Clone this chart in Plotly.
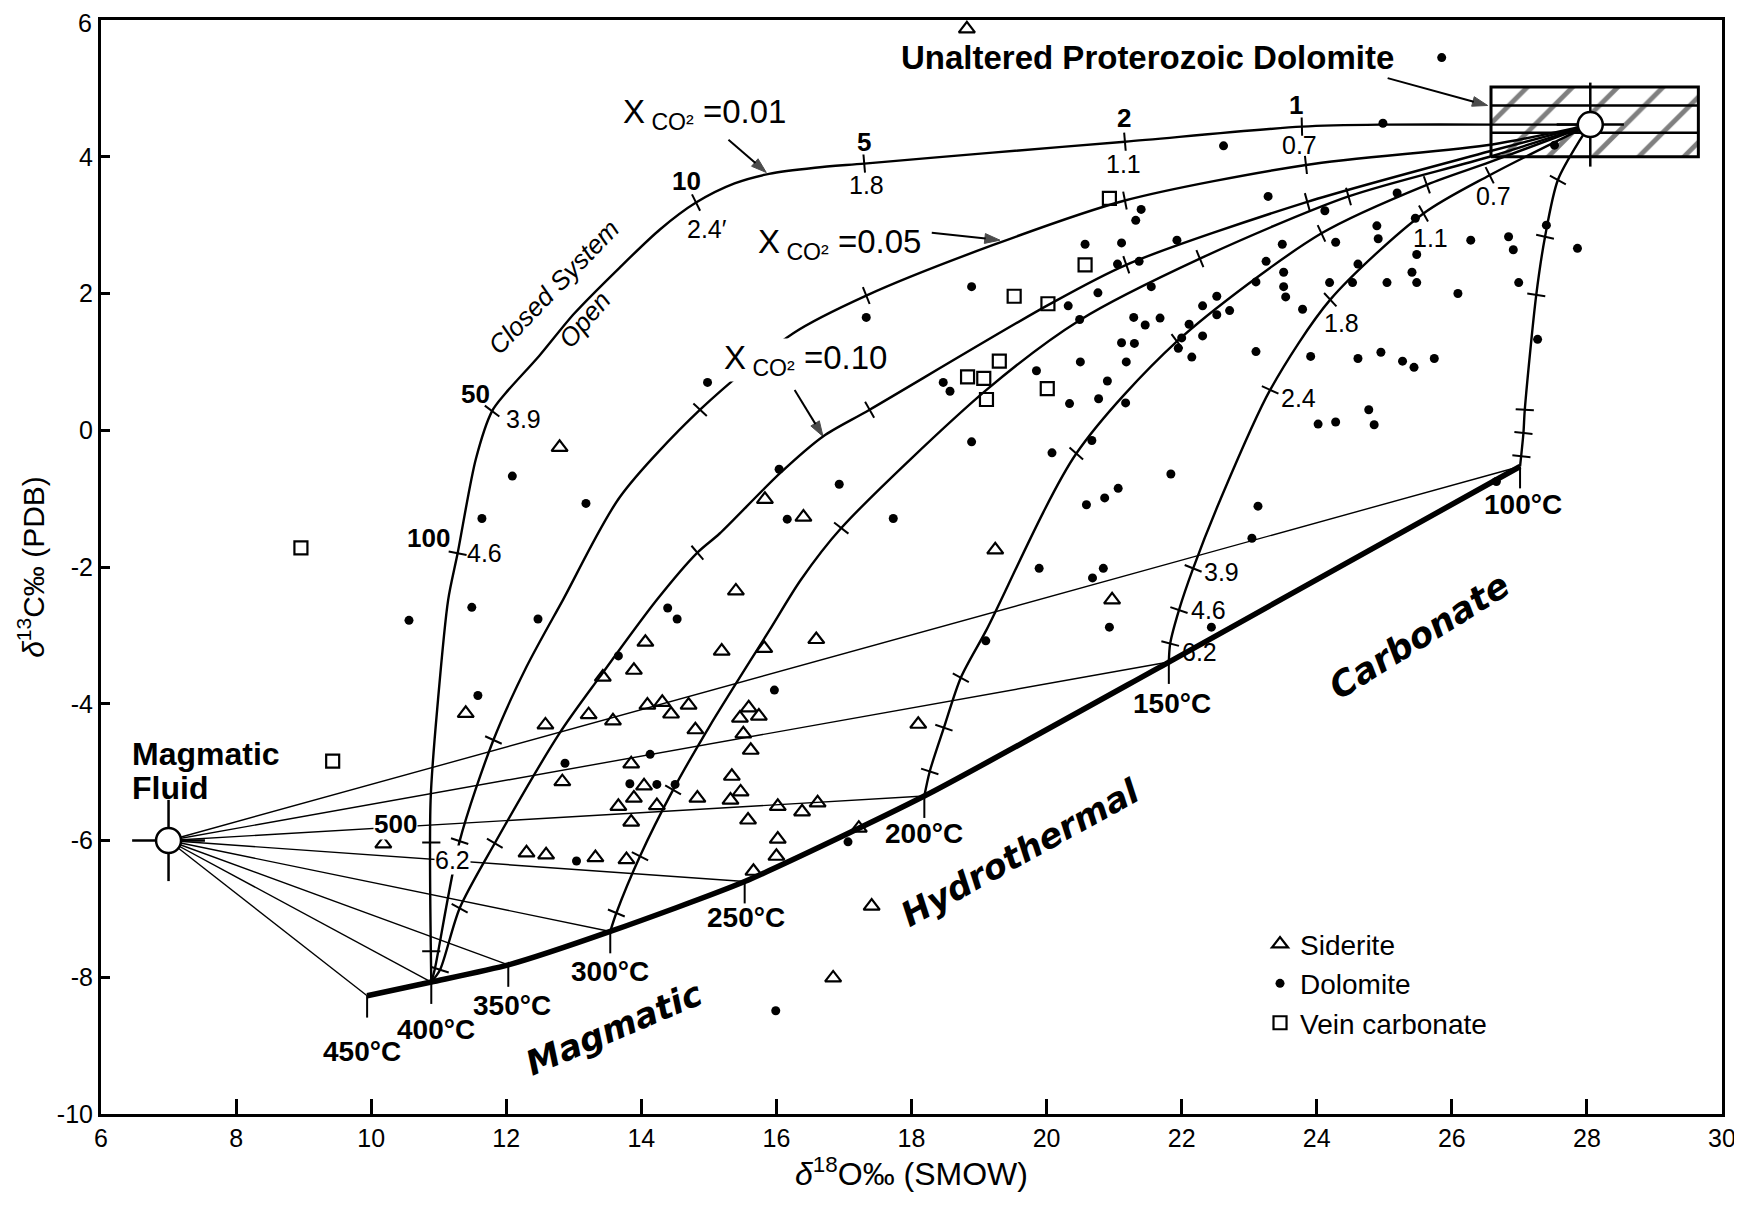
import numpy as np
import plotly.graph_objects as go

FONT = "Liberation Sans, Arial, Helvetica, sans-serif"
WIDE = "DejaVu Sans, Verdana, sans-serif"

# ---------------- sample data (delta18O SMOW, delta13C PDB) ----------------
sid_x = [18.82, 12.79, 15.83, 16.40, 15.40, 19.24, 20.97, 14.06, 15.19, 15.82, 16.59,
         13.89, 13.43, 11.40, 12.58, 13.22, 13.58, 14.09, 14.31, 14.44, 14.70, 14.80,
         15.46, 15.59, 15.74, 15.51, 15.62, 18.10, 12.83, 13.85, 14.04, 13.89, 13.66,
         14.23, 14.83, 15.34, 15.47, 15.32, 16.02, 16.38, 16.61, 15.58, 13.85, 16.02,
         10.18, 12.30, 12.59, 13.32, 13.78, 16.00, 15.66, 17.22, 17.41, 16.84]
sid_y = [5.87, -0.25, -1.01, -1.27, -2.35, -1.75, -2.48, -3.10, -3.23, -3.19, -3.06,
         -3.51, -3.61, -4.14, -4.31, -4.16, -4.25, -4.02, -3.98, -4.15, -4.02, -4.38,
         -4.21, -4.06, -4.18, -4.44, -4.68, -4.30, -5.14, -4.88, -5.20, -5.38, -5.50,
         -5.49, -5.38, -5.06, -5.29, -5.41, -5.50, -5.58, -5.45, -5.70, -5.73, -5.98,
         -6.05, -6.18, -6.21, -6.25, -6.28, -6.23, -6.45, -5.82, -6.96, -8.01]

dol_x = [22.62, 24.98, 23.28, 24.12, 25.19, 21.93, 23.49, 24.28, 24.89, 24.91, 25.46,
         25.48, 26.28, 26.84, 26.91, 27.86, 27.40, 27.52, 23.25, 23.51, 23.51, 23.54,
         23.10, 24.19, 24.53, 24.61, 25.04, 25.41, 25.48, 26.99, 26.09, 22.52, 22.31,
         22.71, 22.52, 21.68, 22.11, 22.00, 22.31, 21.95, 22.15, 23.79, 23.10, 23.91,
         24.61, 24.95, 25.27, 25.44, 25.74, 27.27, 24.02, 24.28, 24.77, 24.85, 21.84,
         23.13, 23.04, 26.66, 25.85, 22.44,
         21.40, 21.32, 20.57, 21.11, 21.05, 21.37, 18.89, 20.32, 20.76, 20.49, 21.55,
         21.29, 21.46, 21.11, 21.30, 20.50, 21.18, 17.33, 18.47, 18.57, 19.85, 20.34,
         20.77, 21.17, 20.90, 18.89, 20.08, 20.67, 20.59, 20.86, 21.06, 19.89, 20.84,
         20.68, 20.93, 19.10, 17.06, 15.99, 14.98, 16.04, 16.16, 16.93, 17.73, 12.09,
         13.18, 11.64, 10.56, 11.49, 12.47, 14.39, 14.53, 13.66, 15.97, 11.58, 12.87,
         14.13, 13.83, 14.23, 14.50, 13.04]
dol_y = [4.16, 4.49, 3.42, 3.21, 3.47, 2.78, 2.72, 2.75, 2.99, 2.80, 3.10,
         2.57, 2.78, 2.83, 2.64, 2.66, 3.00, 4.17, 2.47, 2.31, 2.10, 1.95,
         2.17, 2.16, 2.16, 2.43, 2.16, 2.31, 2.16, 2.16, 2.00, 1.96, 1.82,
         1.75, 1.69, 1.64, 1.55, 1.35, 1.38, 1.20, 1.07, 1.77, 1.15, 1.08,
         1.05, 1.14, 1.01, 0.92, 1.05, 1.33, 0.09, 0.12, 0.30, 0.08, -0.64,
         -1.11, -1.58, -0.75, 5.45, -2.88,
         3.23, 3.07, 2.72, 2.74, 2.43, 2.47, 2.10, 1.82, 2.01, 1.62, 2.10,
         1.65, 1.54, 1.28, 1.27, 1.00, 1.00, 1.65, 0.70, 0.57, 0.87, 0.39,
         0.46, 0.40, 0.72, -0.17, -0.33, -0.15, -1.09, -0.99, -0.85, -2.02, -2.02,
         -2.16, -2.88, -3.08, -6.02, -8.49, 0.70, -0.57, -1.30, -0.79, -1.29, -0.67,
         -1.07, -1.29, -2.78, -2.59, -2.76, -2.60, -2.76, -3.30, -3.80, -3.88, -4.87,
         -4.74, -5.17, -5.18, -5.18, -6.30]

vein_x = [8.96, 9.43, 20.93, 20.57, 19.52, 20.02, 19.30, 18.83, 19.07, 19.11, 20.01]
vein_y = [-1.72, -4.84, 3.39, 2.42, 1.96, 1.85, 1.01, 0.78, 0.76, 0.45, 0.61]

# axis ticks (the top "6" is written separately so it is not clipped by the page edge)
x_ticks = [6, 8, 10, 12, 14, 16, 18, 20, 22, 24, 26, 28, 30]
x_tick_text = ["6", "8", "10", "12", "14", "16", "18", "20", "22", "24", "26", "28", "30"]
y_ticks = [-10, -8, -6, -4, -2, 0, 2, 4, 6]
y_tick_text = ["-10", "-8", "-6", "-4", "-2", "0", "2", "4", ""]
y_top_text = "6"

# ---------------- model end members ----------------
magma_x, magma_y = 7.0, -6.0
dolo_x, dolo_y = 28.05, 4.47
box_x = [26.58, 29.65]
box_y = [4.0, 5.02]
box_layers = [4.35, 4.75]

# hydrothermal carbonate (temperature) curve
temp_labels = ["450°C", "400°C", "350°C", "300°C", "250°C", "200°C", "150°C", "100°C"]
temp_x = [9.94, 10.89, 12.03, 13.54, 15.53, 18.19, 21.81, 27.01]
temp_y = [-8.27, -8.07, -7.82, -7.33, -6.60, -5.35, -3.39, -0.53]

# water/rock interaction curves from unaltered dolomite
c1_x = [28.05, 26.6, 25.0, 23.78, 21.16, 19.2, 17.3, 16.57, 15.89, 15.38, 14.81, 14.28,
        13.68, 13.0, 12.49, 11.98, 11.79, 11.55, 11.28, 11.14, 10.99, 10.88, 10.89]
c1_y = [4.47, 4.47, 4.47, 4.44, 4.22, 4.06, 3.90, 3.84, 3.75, 3.61, 3.33, 2.94,
        2.38, 1.70, 1.09, 0.53, 0.28, -0.42, -1.80, -2.48, -3.94, -5.41, -8.07]
c2_x = [28.05, 26.6, 23.84, 21.16, 19.21, 17.33, 16.25, 14.87, 13.68, 12.84, 12.30,
        11.81, 11.31, 10.94, 10.89]
c2_y = [4.47, 4.18, 3.88, 3.36, 2.71, 1.97, 1.42, 0.30, -0.98, -2.48, -3.46,
        -4.53, -6.01, -7.89, -8.07]
c3_x = [28.05, 26.56, 23.86, 21.18, 20.02, 17.38, 16.69, 16.05, 15.16, 14.83, 14.23,
        13.39, 12.79, 11.83, 11.31, 11.02, 10.89]
c3_y = [4.47, 4.08, 3.34, 2.42, 1.83, 0.30, -0.09, -0.63, -1.51, -1.79, -2.48,
        -3.60, -4.43, -6.04, -6.99, -7.89, -8.07]
c4_x = [28.05, 26.56, 24.47, 22.27, 20.49, 19.11, 16.96, 16.36, 15.90, 15.01, 14.47,
        13.98, 13.63, 13.54]
c4_y = [4.47, 4.00, 3.42, 2.51, 1.61, 0.59, -1.43, -2.19, -2.92, -4.33, -5.26,
        -6.23, -7.06, -7.33]
c5_x = [28.05, 26.56, 25.63, 24.07, 21.93, 20.44, 19.11, 18.73, 18.48, 18.27, 18.19]
c5_y = [4.47, 3.92, 3.59, 2.88, 1.30, -0.34, -2.92, -3.62, -4.35, -4.99, -5.35]
c6_x = [28.05, 26.56, 25.58, 24.20, 23.31, 22.57, 22.17, 21.96, 21.83, 21.81]
c6_y = [4.47, 3.73, 3.17, 1.91, 0.59, -1.02, -2.02, -2.63, -3.12, -3.39]
c7_x = [28.05, 27.9, 27.57, 27.38, 27.25, 27.08, 27.06, 27.01]
c7_y = [4.47, 4.25, 3.66, 2.83, 1.98, 0.30, -0.04, -0.53]

# tick marks along curves
t1_x = [23.78, 21.16, 17.3, 14.81, 11.79, 11.28, 10.89, 10.89]
t1_y = [4.44, 4.22, 3.90, 3.33, 0.28, -1.80, -6.03, -7.62]
t2_x = [23.84, 21.16, 17.33, 14.87, 11.81, 11.31]
t2_y = [3.88, 3.36, 1.97, 0.30, -4.53, -6.01]
t3_x = [23.86, 21.18, 17.38, 14.83, 11.83, 11.31, 11.02]
t3_y = [3.34, 2.42, 0.30, -1.79, -6.04, -6.99, -7.89]
t4_x = [24.47, 22.27, 16.96, 14.47, 13.98, 13.63]
t4_y = [3.42, 2.51, -1.43, -5.26, -6.23, -7.06]
t5_x = [25.63, 24.07, 21.93, 20.44, 18.73, 18.48, 18.27]
t5_y = [3.59, 2.88, 1.30, -0.34, -3.62, -4.35, -4.99]
t6_x = [26.56, 25.58, 24.20, 23.31, 22.17, 21.96, 21.83]
t6_y = [3.73, 3.17, 1.91, 0.59, -2.02, -2.63, -3.12]
t7_x = [27.57, 27.38, 27.25, 27.08, 27.06, 27.03]
t7_y = [3.66, 2.83, 1.98, 0.30, -0.04, -0.38]

curves = [(c1_x, c1_y, t1_x, t1_y), (c2_x, c2_y, t2_x, t2_y), (c3_x, c3_y, t3_x, t3_y),
          (c4_x, c4_y, t4_x, t4_y), (c5_x, c5_y, t5_x, t5_y), (c6_x, c6_y, t6_x, t6_y),
          (c7_x, c7_y, t7_x, t7_y)]

# ---------------- layout geometry (page body has an 8px margin) ----------------
W, H = 1734, 1191
ML, MR, MT, MB = 93, 20, 12, 85
PX_X = (W - ML - MR) / 24.0
PX_Y = (H - MT - MB) / 16.0


def tick_angles(cx, cy, tx, ty):
    cx = np.asarray(cx, float); cy = np.asarray(cy, float)
    out = []
    for x, y in zip(tx, ty):
        best, bd = 0, 1e18
        for i in range(len(cx) - 1):
            x0, y0 = cx[i] * PX_X, cy[i] * PX_Y
            x1, y1 = cx[i + 1] * PX_X, cy[i + 1] * PX_Y
            px, py = x * PX_X, y * PX_Y
            vx, vy = x1 - x0, y1 - y0
            L = vx * vx + vy * vy
            t = 0 if L == 0 else max(0, min(1, ((px - x0) * vx + (py - y0) * vy) / L))
            d = (x0 + t * vx - px) ** 2 + (y0 + t * vy - py) ** 2
            if d < bd:
                bd, best = d, i
        dx = (cx[best + 1] - cx[best]) * PX_X
        dy = (cy[best + 1] - cy[best]) * PX_Y
        out.append(-np.degrees(np.arctan2(dy, dx)))
    return out


fig = go.Figure()

# dolomite box with hatching
fig.add_trace(go.Scatter(
    x=[box_x[0], box_x[1], box_x[1], box_x[0], box_x[0]],
    y=[box_y[0], box_y[0], box_y[1], box_y[1], box_y[0]],
    mode="lines", fill="toself", fillcolor="white",
    fillpattern=dict(shape="/", fgcolor="black", bgcolor="white", size=32, solidity=0.15),
    line=dict(color="black", width=3), hoverinfo="skip", showlegend=False))
lx, ly = [], []
for yy in box_layers:
    lx += [box_x[0], box_x[1], None]
    ly += [yy, yy, None]
fig.add_trace(go.Scatter(x=lx, y=ly, mode="lines", line=dict(color="black", width=2.5),
                         hoverinfo="skip", showlegend=False))

# fan lines from magmatic fluid to each temperature point
fx, fy = [], []
for tx, ty in zip(temp_x, temp_y):
    fx += [magma_x, tx, None]
    fy += [magma_y, ty, None]
fig.add_trace(go.Scatter(x=fx, y=fy, mode="lines", line=dict(color="black", width=1.4),
                         hoverinfo="skip", showlegend=False))

# temperature tick marks (short vertical strokes)
vx, vy = [], []
for tx, ty in zip(temp_x, temp_y):
    vx += [tx, tx, None]
    vy += [ty, ty - 0.32, None]
fig.add_trace(go.Scatter(x=vx, y=vy, mode="lines", line=dict(color="black", width=2),
                         hoverinfo="skip", showlegend=False))

# thick hydrothermal carbonate curve
fig.add_trace(go.Scatter(x=temp_x, y=temp_y, mode="lines",
                         line=dict(color="black", width=5.5, shape="spline", smoothing=0.6),
                         hoverinfo="skip", showlegend=False))

# model curves and their tick marks
for cx, cy, tx, ty in curves:
    fig.add_trace(go.Scatter(x=cx, y=cy, mode="lines",
                             line=dict(color="black", width=2.4, shape="spline", smoothing=0.8),
                             hoverinfo="skip", showlegend=False))
    fig.add_trace(go.Scatter(x=tx, y=ty, mode="markers",
                             marker=dict(symbol="line-ns", size=13,
                                         angle=tick_angles(cx, cy, tx, ty),
                                         line=dict(color="black", width=2)),
                             hoverinfo="skip", showlegend=False))

# end-member symbols (crosshair + open circle)
for (ex, ey, hs, vs) in [(magma_x, magma_y, 52, 58), (dolo_x, dolo_y, 48, 60)]:
    fig.add_trace(go.Scatter(x=[ex], y=[ey], mode="markers",
                             marker=dict(symbol="line-ew", size=hs, line=dict(color="black", width=2.5)),
                             hoverinfo="skip", showlegend=False))
    fig.add_trace(go.Scatter(x=[ex], y=[ey], mode="markers",
                             marker=dict(symbol="line-ns", size=vs, line=dict(color="black", width=2.5)),
                             hoverinfo="skip", showlegend=False))
    fig.add_trace(go.Scatter(x=[ex], y=[ey], mode="markers",
                             marker=dict(symbol="circle", size=25, color="white",
                                         line=dict(color="black", width=2.5)),
                             hoverinfo="skip", showlegend=False))

# pointer arrows (tail -> head)
arrows = [(15.29, 4.25, 15.85, 3.77), (18.30, 2.89, 19.31, 2.78),
          (16.27, 0.59, 16.69, -0.09), (25.05, 5.15, 26.53, 4.75)]
for ax0, ay0, hx, hy in arrows:
    fig.add_trace(go.Scatter(x=[ax0, hx], y=[ay0, hy], mode="lines+markers",
                             line=dict(color="black", width=2),
                             marker=dict(symbol=["circle", "arrow"], size=[0, 16], color="black",
                                         angleref="previous", line=dict(width=1, color="black")),
                             hoverinfo="skip", showlegend=False))

# samples
fig.add_trace(go.Scatter(x=sid_x, y=sid_y, mode="markers", name="Siderite",
                         marker=dict(symbol="triangle-up-open", size=14, color="black",
                                     line=dict(width=2.2, color="black"))))
fig.add_trace(go.Scatter(x=dol_x, y=dol_y, mode="markers", name="Dolomite",
                         marker=dict(symbol="circle", size=9, color="black")))
fig.add_trace(go.Scatter(x=vein_x, y=vein_y, mode="markers", name="Vein carbonate",
                         marker=dict(symbol="square-open", size=13, color="black",
                                     line=dict(width=2.2, color="black"))))

ann = []


def label(text, x, y, size=24, bold=False, italic=False, angle=0, xanchor="center",
          bg=None, family=FONT):
    t = text
    if bold:
        t = "<b>" + t + "</b>"
    if italic:
        t = "<i>" + t + "</i>"
    d = dict(text=t, x=x, y=y, xref="x", yref="y", showarrow=False, xanchor=xanchor,
             yanchor="middle", textangle=angle, font=dict(family=family, size=size, color="black"),
             borderpad=0)
    if bg:
        d["bgcolor"] = bg
    ann.append(d)


# bold water/rock ratios and regular values on closed-system curve
for t, x, y in [("1", 23.70, 4.76), ("2", 21.14, 4.56), ("5", 17.29, 4.22), ("10", 14.67, 3.64)]:
    label(t, x, y, size=26, bold=True)
label("50", 11.78, 0.53, size=26, bold=True, xanchor="right")
label("100", 11.18, -1.57, size=26, bold=True, xanchor="right")
label("500", 10.36, -5.76, size=26, bold=True, bg="white")
for t, x, y in [("0.7", 23.75, 4.17), ("1.1", 21.14, 3.89), ("1.8", 17.33, 3.58)]:
    label(t, x, y, size=25)
label("2.4′", 14.66, 2.94, size=25, xanchor="left")
label("3.9", 11.98, 0.17, size=25, xanchor="left")
label("4.6", 11.40, -1.80, size=25, xanchor="left")
label("6.2", 11.20, -6.29, size=25, bg="white")
for t, x, y in [("0.7", 26.61, 3.42), ("1.1", 25.68, 2.81), ("1.8", 24.37, 1.57), ("2.4", 23.73, 0.47),
                ("3.9", 22.59, -2.07), ("4.6", 22.40, -2.63), ("6.2", 22.27, -3.25)]:
    label(t, x, y, size=25)

# temperatures
temp_lab_x = [9.86, 10.96, 12.08, 13.53, 15.55, 18.19, 21.85, 27.06]
temp_lab_y = [-9.09, -8.77, -8.42, -7.92, -7.13, -5.90, -4.00, -1.09]
for t, x, y in zip(temp_labels, temp_lab_x, temp_lab_y):
    label(t, x, y, size=28, bold=True)

label("Unaltered Proterozoic Dolomite", 21.5, 5.45, size=33, bold=True)
label("Magmatic", 6.44, -4.73, size=32, bold=True, xanchor="left")
label("Fluid", 6.44, -5.23, size=32, bold=True, xanchor="left")

label("X<sub> CO²</sub> =0.01", 13.72, 4.62, size=33, xanchor="left")
label("X<sub> CO²</sub> =0.05", 15.71, 2.72, size=33, xanchor="left", bg="white")
label("X<sub> CO²</sub> =0.10", 15.21, 1.03, size=33, xanchor="left", bg="white")

label("Closed System", 12.70, 2.10, size=26, italic=True, angle=-46)
label("Open", 13.17, 1.62, size=26, italic=True, angle=-50)

label("Magmatic", 13.60, -8.74, size=34, bold=True, italic=True, angle=-23, family=WIDE)
label("Hydrothermal", 19.62, -6.17, size=34, bold=True, italic=True, angle=-29, family=WIDE)
label("Carbonate", 25.52, -3.01, size=35, bold=True, italic=True, angle=-32, family=WIDE)

# top y tick label, kept inside the page
ann.append(dict(text=y_top_text, xref="paper", yref="paper", x=0, y=1, xanchor="right",
                yanchor="top", xshift=-8, yshift=MT, showarrow=False, borderpad=0,
                font=dict(family=FONT, size=25, color="black")))

fig.update_layout(
    width=W, height=H,
    margin=dict(l=ML, r=MR, t=MT, b=MB, autoexpand=False),
    paper_bgcolor="white", plot_bgcolor="white",
    font=dict(family=FONT, size=24, color="black"),
    annotations=ann,
    showlegend=True,
    legend=dict(x=0.715, y=0.178, xanchor="left", yanchor="top", bgcolor="rgba(0,0,0,0)",
                font=dict(family=FONT, size=28, color="black"), itemwidth=30,
                tracegroupgap=0),
)
fig.update_xaxes(range=[6, 30], tickvals=x_ticks, ticktext=x_tick_text, showline=True,
                 linewidth=3, linecolor="black", automargin=False, ticklabeloverflow="allow",
                 mirror=True, ticks="inside", ticklen=15, tickwidth=2.5, tickcolor="black",
                 showgrid=False, zeroline=False, tickfont=dict(size=25, family=FONT),
                 title=dict(text="<i>δ</i><sup>18</sup>O‰ (SMOW)", font=dict(size=32, family=FONT),
                            standoff=6))
fig.update_yaxes(range=[-10, 6], tickvals=y_ticks, ticktext=y_tick_text, showline=True,
                 linewidth=3, linecolor="black", automargin=False, ticklabeloverflow="allow",
                 mirror=True, ticks="inside", ticklen=9, tickwidth=2.5, tickcolor="black",
                 showgrid=False, zeroline=False, tickfont=dict(size=25, family=FONT),
                 title=dict(text="<i>δ</i><sup>13</sup>C‰ (PDB)", font=dict(size=30, family=FONT),
                            standoff=4))

fig.write_html("out.html")
